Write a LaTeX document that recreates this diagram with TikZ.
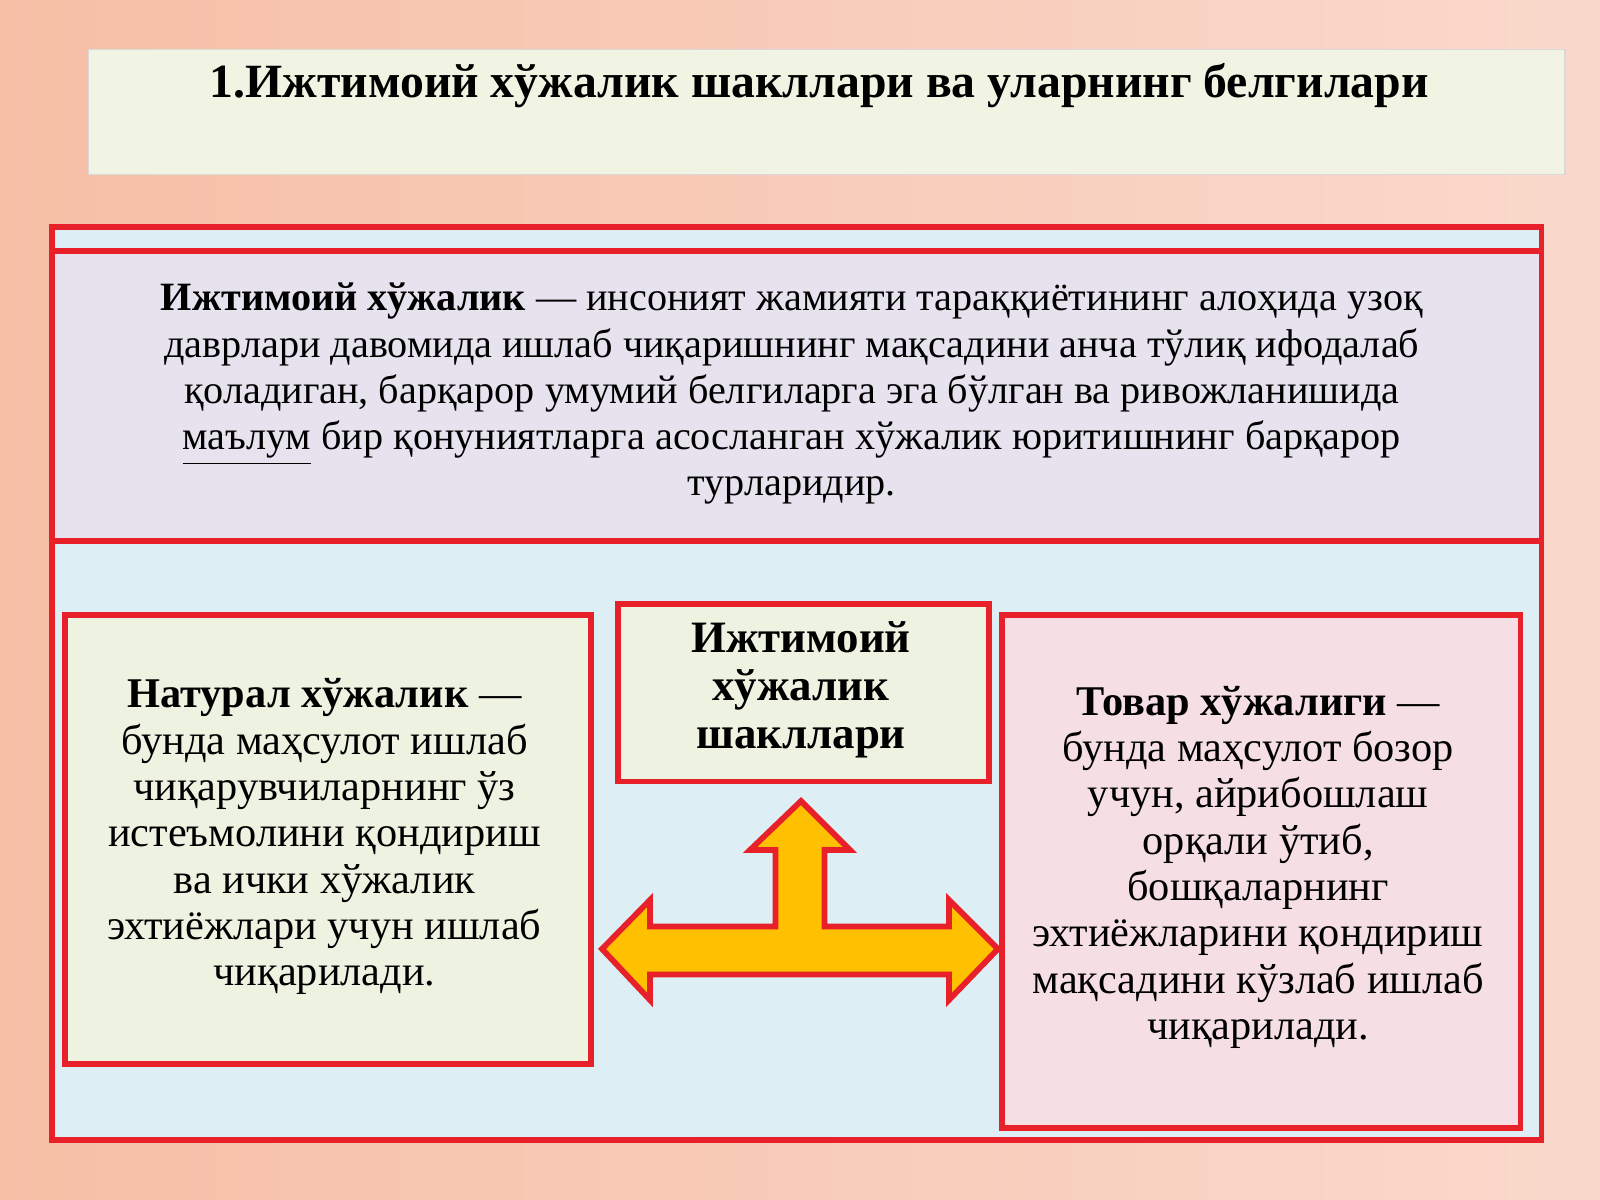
\documentclass[tikz,border=0pt]{standalone}
\usepackage{fontspec}
\setmainfont{Liberation Serif}
\usetikzlibrary{positioning}
\definecolor{bgleft}{HTML}{F6BFA6}
\definecolor{bgright}{HTML}{FAD9CC}
\definecolor{titlefill}{HTML}{F1F4E2}
\definecolor{framefill}{HTML}{DDEEF4}
\definecolor{deffill}{HTML}{E6E2EE}
\definecolor{greenfill}{HTML}{EEF2E1}
\definecolor{pinkfill}{HTML}{F5DFE4}
\definecolor{boxred}{HTML}{E8202A}
\definecolor{arrowfill}{HTML}{FFC000}
\begin{document}
\begin{tikzpicture}[x=0.01cm,y=-0.01cm,
  redbox/.style={draw=boxred,line width=1.6pt},
  txt/.style={align=center,font=\fontsize{11.8}{12.9}\selectfont}]
  \shade[left color=bgleft,right color=bgright] (0,0) rectangle (1568,1176);
  \useasboundingbox (0,0) rectangle (1568,1176);

  % title
  \node[draw=black!15,fill=titlefill,minimum width=14.46cm,minimum height=1.22cm,
        anchor=north west] (title) at (86,48) {};
  \node[font=\fontsize{13.3}{16}\selectfont\bfseries] (titletext) at (803,84)
    {1.Ижтимоий хўжалик шакллари ва уларнинг белгилари};

  % frame and definition band
  \node[redbox,fill=framefill,minimum width=14.59cm,minimum height=8.94cm,
        anchor=north west] (frame) at (48,220) {};
  \node[redbox,fill=deffill,minimum width=14.59cm,minimum height=2.84cm,
        anchor=north west] (band) at (48,243) {};
  \node[txt,font=\fontsize{11.2}{12.9}\selectfont] (def) at (776,386)
    {\textbf{Ижтимоий хўжалик} — инсоният жамияти тараққиётининг алоҳида узоқ\\
     даврлари давомида ишлаб чиқаришнинг мақсадини анча тўлиқ ифодалаб\\
     қоладиган, барқарор умумий белгиларга эга бўлган ва ривожланишида\\
     \underline{маълум} бир қонуниятларга асосланган хўжалик юритишнинг барқарор\\
     турларидир.};

  % three boxes
  \node[redbox,fill=greenfill,minimum width=5.15cm,minimum height=4.4cm,
        anchor=north west] (natural) at (61,600) {};
  \node[txt] (naturaltext) at (318,820)
    {\textbf{Натурал хўжалик} —\\ бунда маҳсулот ишлаб\\ чиқарувчиларнинг ўз\\
     истеъмолини қондириш\\ ва ички хўжалик\\ эхтиёжлари учун ишлаб\\ чиқарилади.};
  \node[redbox,fill=greenfill,minimum width=3.63cm,minimum height=1.74cm,
        anchor=north west] (forms) at (603,589) {};
  \node[txt,font=\fontsize{12.5}{13.5}\selectfont\bfseries] (formstext) at (785,676)
    {Ижтимоий\\хўжалик\\шакллари};
  \node[redbox,fill=pinkfill,minimum width=5.08cm,minimum height=5.02cm,
        anchor=north west] (commodity) at (979,600) {};
  \node[txt] (commoditytext) at (1233,850)
    {\textbf{Товар хўжалиги} —\\ бунда маҳсулот бозор\\ учун, айрибошлаш\\ орқали
     ўтиб,\\ бошқаларнинг\\ эхтиёжларини қондириш\\ мақсадини кўзлаб ишлаб\\
     чиқарилади.};

  % arrow
  \draw[draw=boxred,line width=1.6pt,fill=arrowfill,line join=miter]
    (590,930) -- (637,882) -- (637,908) -- (760,908) -- (760,833) -- (735,833)
    -- (785,785) -- (833,833) -- (808,833) -- (808,908) -- (930,908)
    -- (930,882) -- (978,930) -- (930,980) -- (930,955) -- (637,955)
    -- (637,980) -- cycle;
\end{tikzpicture}
\end{document}
